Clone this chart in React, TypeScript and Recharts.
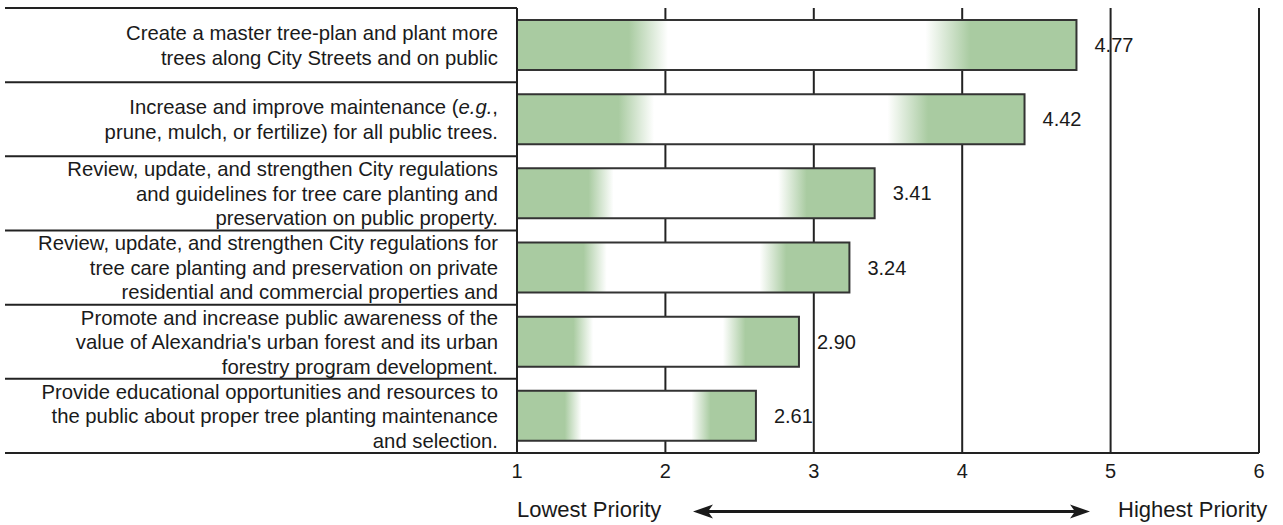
import { BarChart, Bar, XAxis, YAxis, CartesianGrid, LabelList } from 'recharts'

const categories = [
    'Create a master tree-plan and plant more\ntrees along City Streets and on public',
    'Increase and improve maintenance (e.g.,\nprune, mulch, or fertilize) for all public trees.',
    'Review, update, and strengthen City regulations\nand guidelines for tree care planting and\npreservation on public property.',
    'Review, update, and strengthen City regulations for\ntree care planting and preservation on private\nresidential and commercial properties and',
    "Promote and increase public awareness of the\nvalue of Alexandria's urban forest and its urban\nforestry program development.",
    'Provide educational opportunities and resources to\nthe public about proper tree planting maintenance\nand selection.',
]
const scores = [4.77, 4.42, 3.41, 3.24, 2.9, 2.61]
const xTicks = [1, 2, 3, 4, 5, 6]
const lowLabel = 'Lowest Priority'
const highLabel = 'Highest Priority'

const data = categories.map((name, i) => ({ name, score: scores[i] }))

const W = 1283
const H = 525
const MARGIN = { top: 8, right: 24, bottom: 0, left: 0 }
const Y_AXIS_W = 517
const X_AXIS_H = 72
const PLOT_TOP = MARGIN.top
const PLOT_BOTTOM = H - MARGIN.bottom - X_AXIS_H
const BAND = (PLOT_BOTTOM - PLOT_TOP) / categories.length
const LINE_LEFT = 5

const FONT = '"Liberation Sans", Arial, Helvetica, sans-serif'
const INK = '#1a1a1a'
const RULE = '#222'
const GREEN = '#a9cba1'

function renderLine(line: string) {
    // italicise "e.g." like the original
    const parts = line.split(/(e\.g\.)/)
    return parts.map((p, i) => (
        <tspan key={i} fontStyle={p === 'e.g.' ? 'italic' : undefined}>{p}</tspan>
    ))
}

function CategoryTick(props: any) {
    const { y, payload, index } = props
    const lines = String(payload.value).split('\n')
    const lh = 24.5
    const textX = Y_AXIS_W - 19
    return (
        <g>
            {index === 0 && (
                <line x1={LINE_LEFT} x2={Y_AXIS_W} y1={y - BAND / 2} y2={y - BAND / 2} stroke={RULE} strokeWidth={2} />
            )}
            <line x1={LINE_LEFT} x2={Y_AXIS_W} y1={y + BAND / 2} y2={y + BAND / 2} stroke={RULE} strokeWidth={2} />
            <text textAnchor="end" fontFamily={FONT} fontSize={20.3} fill={INK}>
                {lines.map((ln, i) => (
                    <tspan key={i} x={textX} y={y + (i - (lines.length - 1) / 2) * lh} dy="0.36em">
                        {renderLine(ln)}
                    </tspan>
                ))}
            </text>
        </g>
    )
}

function ValueTick(props: any) {
    const { x, y, payload } = props
    return (
        <text x={x} y={y} dy={17} textAnchor="middle" fontFamily={FONT} fontSize={20} fill={INK}>
            {payload.value}
        </text>
    )
}

function PriorityLabel(props: any) {
    const vb = props.viewBox || { x: Y_AXIS_W, y: PLOT_BOTTOM, width: 742 }
    const x0 = vb.x
    const base = vb.y + 64
    const ay = vb.y + 58.5
    const left = x0 + 176
    const right = x0 + 573
    return (
        <g>
            <text x={x0} y={base} fontFamily={FONT} fontSize={22} fill={INK}>{lowLabel}</text>
            <line x1={left + 12} x2={right - 12} y1={ay} y2={ay} stroke={INK} strokeWidth={3} />
            <path d={`M${left},${ay} L${left + 20},${ay - 7} L${left + 15},${ay} L${left + 20},${ay + 7} Z`} fill={INK} />
            <path d={`M${right},${ay} L${right - 20},${ay - 7} L${right - 15},${ay} L${right - 20},${ay + 7} Z`} fill={INK} />
            <text x={x0 + 601} y={base} fontFamily={FONT} fontSize={22} fill={INK}>{highLabel}</text>
        </g>
    )
}

export default function App() {
    return (
        <div style={{ position: 'absolute', left: 0, top: 0, background: '#fff' }}>
            <BarChart width={W} height={H} data={data} layout="vertical" margin={MARGIN} barSize={50}>
                <defs>
                    <linearGradient id="barGrad" x1="0" y1="0" x2="1" y2="0">
                        <stop offset="0" stopColor={GREEN} />
                        <stop offset="0.2" stopColor={GREEN} />
                        <stop offset="0.27" stopColor="#ffffff" />
                        <stop offset="0.73" stopColor="#ffffff" />
                        <stop offset="0.81" stopColor={GREEN} />
                        <stop offset="1" stopColor={GREEN} />
                    </linearGradient>
                </defs>
                <CartesianGrid horizontal={false} stroke={RULE} strokeWidth={2} />
                <XAxis
                    type="number"
                    domain={[1, 6]}
                    ticks={xTicks}
                    interval={0}
                    height={X_AXIS_H}
                    tickLine={false}
                    axisLine={{ stroke: RULE, strokeWidth: 2 }}
                    tick={<ValueTick />}
                    label={{ content: <PriorityLabel /> }}
                />
                <XAxis
                    xAxisId="top"
                    orientation="top"
                    type="number"
                    domain={[1, 6]}
                    height={0}
                    tick={false}
                    tickLine={false}
                    axisLine={{ stroke: RULE, strokeWidth: 2 }}
                />
                <YAxis
                    type="category"
                    dataKey="name"
                    width={Y_AXIS_W}
                    interval={0}
                    tickLine={false}
                    axisLine={{ stroke: RULE, strokeWidth: 2 }}
                    tick={<CategoryTick />}
                />
                <Bar dataKey="score" fill="url(#barGrad)" stroke="#333" strokeWidth={2} isAnimationActive={false}>
                    <LabelList
                        dataKey="score"
                        position="right"
                        offset={18}
                        formatter={(v: any) => Number(v).toFixed(2)}
                        style={{ fontFamily: FONT, fontSize: 20, fill: INK }}
                    />
                </Bar>
            </BarChart>
        </div>
    )
}
